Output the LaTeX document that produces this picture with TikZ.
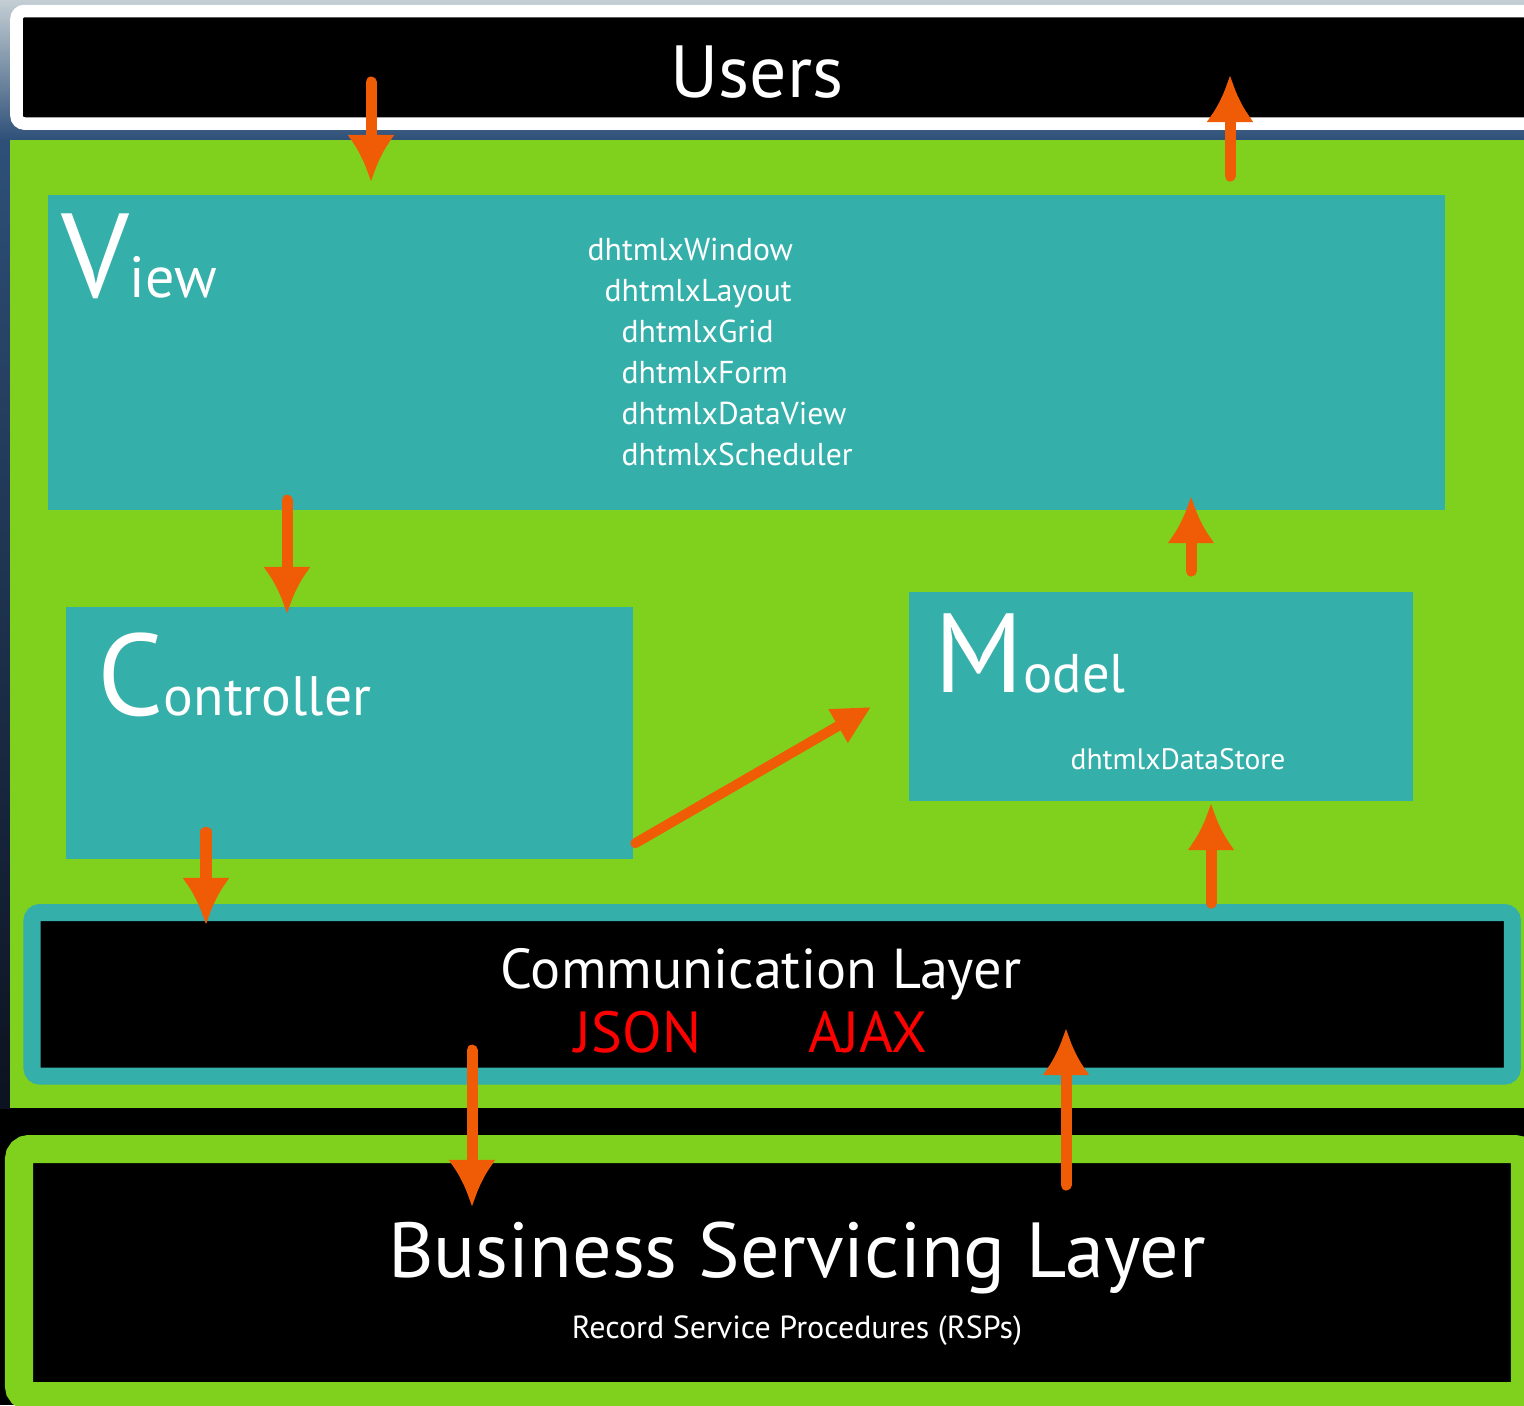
\documentclass[tikz,border=0pt]{standalone}
\usepackage{fontspec}
\setmainfont{PT Sans}
\usetikzlibrary{arrows.meta,calc}

\definecolor{mvcgreen}{RGB}{127,209,30}
\definecolor{mvcteal}{RGB}{53,175,170}
\definecolor{flowc}{RGB}{240,92,5}
\definecolor{skytop}{RGB}{196,206,212}
\definecolor{skymid}{RGB}{46,80,120}
\definecolor{skylow}{RGB}{12,18,32}

\tikzset{
  panel/.style={fill=mvcteal, inner sep=0pt, outer sep=0pt, anchor=north west},
  layer/.style={fill=black, inner sep=0pt, outer sep=0pt, anchor=north west},
  flow/.style={draw=flowc, line width=1.1mm, line cap=round,
    -{Latex[length=4.7mm,width=4.8mm]}},
  title/.style={text=white, inner sep=0pt, anchor=base west},
  caption/.style={text=white, inner sep=0pt, anchor=base},
  item/.style={text=white, inner sep=0pt, anchor=base west,
    font=\fontsize{9}{11}\selectfont},
}

\begin{document}
\begin{tikzpicture}[x=0.01cm, y=-0.01cm]
  \useasboundingbox (0,0) rectangle (1524,1405);
  \clip (0,0) rectangle (1524,1405);
  \fill[black] (0,0) rectangle (1524,1405);
  \shade[top color=skytop, bottom color=skymid] (0,0) rectangle (1524,140);
  \shade[top color=skymid, bottom color=skylow] (0,140) rectangle (10,1108);
  \fill[mvcgreen] (10,140) rectangle (1524,1108);

  \node[layer, draw=white, line width=1.25mm, rounded corners=0.8mm,
    minimum width=152.35mm, minimum height=11.25mm] (users) at (16.5,11) {};
  \node[caption, font=\fontsize{21}{21}\selectfont] (userslbl) at (757,97) {Users};

  \node[panel, minimum width=139.6mm, minimum height=31.5mm] (view) at (48,195) {};
  \node[title] (viewlbl) at (61,297)
    {{\fontsize{34}{34}\selectfont V}{\fontsize{16.5}{16.5}\selectfont iew}};
  \foreach \txt/\x [count=\i] in {dhtmlxWindow/587, dhtmlxLayout/604,
      dhtmlxGrid/621, dhtmlxForm/621, dhtmlxDataView/621, dhtmlxScheduler/621}
    \node[item] (item\i) at (\x,219+41*\i) {\txt};

  \node[panel, minimum width=56.7mm, minimum height=25.2mm] (ctrl) at (66,607) {};
  \node[title] (ctrllbl) at (97,715)
    {{\fontsize{33}{33}\selectfont C}{\fontsize{15.8}{15.8}\selectfont ontroller}};

  \node[panel, minimum width=50.4mm, minimum height=20.9mm] (model) at (909,592) {};
  \node[title] (modellbl) at (934,692)
    {{\fontsize{32}{32}\selectfont M}{\fontsize{15.5}{15.5}\selectfont odel}};
  \node[caption, font=\fontsize{8.4}{10}\selectfont] (store) at (1178,769) {dhtmlxDataStore};

  \node[layer, draw=mvcteal, line width=1.7mm, rounded corners=0.8mm,
    minimum width=147.95mm, minimum height=16.35mm] (comm) at (32,912.5) {};
  \node[caption, font=\fontsize{16}{16}\selectfont] (commlbl) at (761,988) {Communication Layer};
  \node[caption, text=red, font=\fontsize{16.5}{16.5}\selectfont] (json) at (638,1052) {JSON};
  \node[caption, text=red, font=\fontsize{16.5}{16.5}\selectfont] (ajax) at (868,1052) {AJAX};

  \node[layer, draw=mvcgreen, line width=2.8mm, rounded corners=1mm,
    minimum width=150.5mm, minimum height=24.7mm] (bsl) at (19,1149) {};
  \node[caption, font=\fontsize{22.2}{22.2}\selectfont] (bsllbl) at (797,1277) {Business Servicing Layer};
  \node[caption, font=\fontsize{9.1}{11}\selectfont] (rsp) at (797,1338) {Record Service Procedures (RSPs)};

  \draw[flow] ($(view.north west)+(323,-113)$) -- ($(view.north west)+(323,-13)$);
  \draw[flow] ($(view.north west)+(1182,-19)$) -- ($(view.north west)+(1182,-120)$);
  \draw[flow] ($(view.south west)+(239,-10)$) -- ($(ctrl.north west)+(221,7)$);
  \draw[flow] ($(model.north west)+(282,-21)$) -- ($(view.south west)+(1143,-14)$);
  \draw[flow, line width=1mm, -{Triangle[length=3.8mm,width=3.6mm]}]
    ($(ctrl.south east)+(2,-16)$) -- ($(model.north west)+(-38,115)$);
  \draw[flow] ($(ctrl.south west)+(140,-27)$) -- ($(comm.north west)+(174,12.5)$);
  \draw[flow] ($(comm.north west)+(1179,-9.5)$) -- ($(model.south west)+(302,2)$);
  \draw[flow] ($(comm.south west)+(440,-26)$) -- ($(bsl.north west)+(453,58)$);
  \draw[flow] ($(bsl.north west)+(1047,36)$) -- ($(comm.south west)+(1034,-48)$);
\end{tikzpicture}
\end{document}
